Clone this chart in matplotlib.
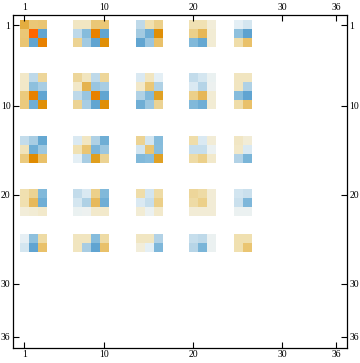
import numpy as np
import matplotlib
matplotlib.use("Agg")
import matplotlib.pyplot as plt
from matplotlib.colors import LinearSegmentedColormap, Normalize

# matrix size and the non-zero block layout (1-based start, size)
n = 36
block_starts = [1, 7, 14, 20, 25]
block_sizes = [3, 4, 3, 3, 2]
ticks = [1, 10, 20, 30, 36]

# one band per block-row; each row lists the 15 non-zero columns
# (cols 1-3, 7-10, 14-16, 20-22, 25-26)
band1 = [
    [0.60, 0.40, 0.42, 0.12, 0.12, 0.40, 0.40, -0.30, 0.20, 0.33, 0.18, 0.18, 0.05, -0.10, -0.18],
    [0.40, 1.00, -0.80, -0.30, -0.60, 0.85, -0.80, -0.45, -0.72, 0.78, 0.33, 0.52, 0.07, -0.55, -0.85],
    [0.42, -0.80, 0.85, 0.30, -0.45, -0.82, 0.78, -0.80, -0.50, 0.45, -0.62, -0.78, 0.07, 0.22, 0.45],
]
band2 = [
    [0.10, -0.30, 0.28, 0.28, 0.14, -0.30, 0.28, -0.15, 0.14, -0.10, -0.28, -0.18, -0.06, 0.13, 0.13],
    [0.10, -0.55, -0.42, 0.10, 0.55, -0.50, -0.42, 0.10, 0.40, -0.38, -0.15, -0.35, -0.04, 0.13, -0.38],
    [0.38, 0.85, -0.80, -0.30, -0.50, 0.85, -0.80, -0.38, -0.62, 0.68, 0.33, 0.52, 0.07, -0.60, -0.82],
    [0.38, -0.72, 0.78, 0.30, -0.42, -0.80, 0.78, -0.72, -0.48, 0.30, -0.62, -0.72, 0.07, 0.22, 0.45],
]
band3 = [
    [-0.28, -0.42, -0.78, -0.15, 0.12, -0.38, -0.72, 0.30, -0.20, -0.60, 0.22, -0.15, 0.06, 0.11, 0.06],
    [0.15, -0.72, -0.48, 0.18, 0.42, -0.65, -0.48, -0.20, 0.42, -0.58, -0.26, -0.26, -0.05, 0.10, -0.15],
    [0.38, 0.80, 0.45, -0.10, -0.42, 0.70, 0.30, -0.62, -0.58, 0.68, 0.24, 0.33, 0.09, -0.36, -0.66],
]
band4 = [
    [0.20, 0.30, -0.62, -0.28, -0.15, 0.33, -0.62, 0.22, -0.20, 0.24, 0.28, 0.24, 0.06, -0.20, -0.24],
    [0.20, 0.50, -0.72, -0.18, -0.38, 0.50, -0.72, -0.15, -0.26, 0.34, 0.24, 0.33, 0.06, -0.24, -0.64],
    [0.05, 0.07, 0.09, -0.06, -0.04, 0.09, 0.09, 0.07, -0.05, 0.09, 0.06, 0.06, 0.06, -0.05, -0.05],
]
band5 = [
    [-0.08, -0.55, 0.24, 0.14, 0.14, -0.60, 0.24, 0.12, 0.12, -0.36, -0.26, -0.30, -0.05, 0.20, 0.20],
    [-0.18, -0.82, 0.45, 0.14, -0.42, -0.82, 0.45, 0.05, -0.10, -0.64, -0.34, -0.66, -0.05, 0.20, 0.42],
]
bands = [band1, band2, band3, band4, band5]

# build the full matrix from the blocks
cols = np.concatenate([np.arange(s - 1, s - 1 + k) for s, k in zip(block_starts, block_sizes)])
mat = np.zeros((n, n))
for start, size, band in zip(block_starts, block_sizes, bands):
    rows = np.arange(start - 1, start - 1 + size)
    mat[np.ix_(rows, cols)] = np.array(band)
mat = np.ma.masked_equal(mat, 0.0)

stops = [
    (-1.0, "#4F97CA"), (-0.8, "#62A6D2"), (-0.6, "#86BCDC"), (-0.4, "#ACCFE4"),
    (-0.2, "#D2E5F0"), (-0.1, "#E4EFF6"), (0.0, "#F4F4EC"), (0.1, "#F2E8C8"),
    (0.2, "#F0E0B0"), (0.3, "#EDD494"), (0.4, "#EBC878"), (0.55, "#E6B450"),
    (0.7, "#E0A020"), (0.8, "#E08C00"), (0.9, "#F07800"), (1.0, "#FF6600"),
]
cmap = LinearSegmentedColormap.from_list("mma", [((v + 1) / 2, c) for v, c in stops])
cmap.set_bad("white")

fig = plt.figure(figsize=(3.6, 3.63), dpi=100)
ax = fig.add_axes([13.3 / 360, 1 - 347.5 / 363, 333.4 / 360, 332.5 / 363])
ax.imshow(mat, cmap=cmap, norm=Normalize(-1, 1), interpolation="nearest",
          extent=(0.5, n + 0.5, n + 0.5, 0.5), aspect="auto")
ax.set_xlim(-0.24, 37.22)
ax.set_ylim(37.19, -0.17)

ax.set_xticks(ticks)
ax.set_yticks(ticks)
ax.tick_params(direction="in", length=4, width=0.8, top=True, right=True,
               labeltop=True, labelright=True, labelsize=7, pad=2)
for lab in ax.get_xticklabels() + ax.get_yticklabels():
    lab.set_family("Liberation Serif")
for sp in ax.spines.values():
    sp.set_linewidth(0.9)

fig.savefig("out.png", dpi=100)
